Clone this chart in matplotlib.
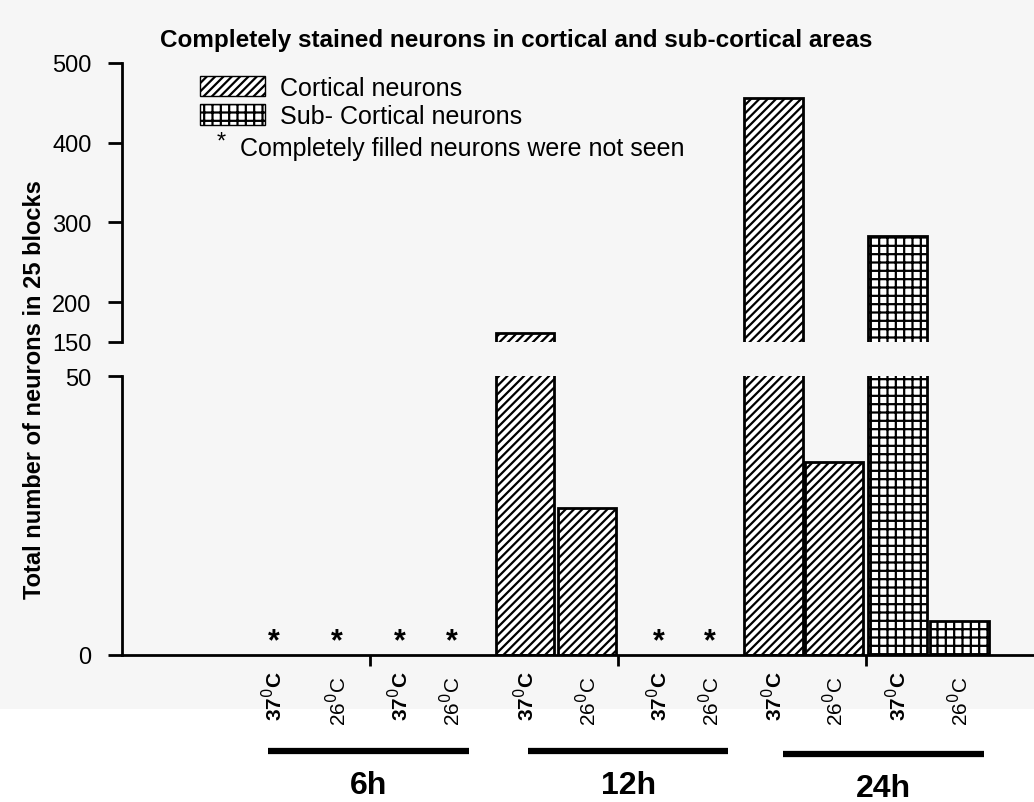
import numpy as np
import matplotlib
matplotlib.use('Agg')
import matplotlib.pyplot as plt
from matplotlib.patches import Patch, Rectangle
from matplotlib.transforms import blended_transform_factory

plt.rcParams['font.family'] = ['Liberation Sans', 'DejaVu Sans']
plt.rcParams['hatch.linewidth'] = 1.6

# Данные
groups = ['6h', '12h', '24h']
temps = ['37', '26']
# значения по группам: [37, 26]; nan = полностью окрашенных нейронов не найдено
cortical = np.array([[np.nan, np.nan], [161, 26.3], [456, 34.6]])
subcortical = np.array([[np.nan, np.nan], [np.nan, np.nan], [283, 6.1]])

# позиции столбцов (слоты по 4 в группе: кора 37/26, подкорка 37/26)
slots = np.array([-0.05, 0.97, 1.98, 2.82, 4.0, 5.0, 6.15, 6.98, 8.0, 8.98, 10.0, 11.0])
pos_c = slots.reshape(3, 4)[:, :2]
pos_s = slots.reshape(3, 4)[:, 2:]
tick_labels = [f'{temps[i % 2]}$^0$C' for i in range(len(slots))]

W, H = 1034, 803
fig = plt.figure(figsize=(W / 100, H / 100), dpi=100)
fig.patches.append(Rectangle((0, 1 - 710 / H), 1, 710 / H, transform=fig.transFigure,
                             facecolor='#f6f6f6', edgecolor='none', zorder=-10))

left = 122 / W
ax_top = fig.add_axes([left, 1 - 343 / H, 1 - left, 279 / H])
ax_bot = fig.add_axes([left, 1 - 656 / H, 1 - left, 279 / H])
for ax in (ax_top, ax_bot):
    ax.patch.set_alpha(0)
    for pc, vc, ps, vs in zip(pos_c, cortical, pos_s, subcortical):
        ax.bar(pc, vc, width=0.94, color='white', edgecolor='black', hatch='////', linewidth=2)
        ax.bar(ps, vs, width=0.94, color='white', edgecolor='black', hatch='++', linewidth=2)
    ax.set_xlim(-2.5, 12.2)
    ax.spines['top'].set_visible(False)
    ax.spines['right'].set_visible(False)
    ax.spines['left'].set_linewidth(2)
    ax.tick_params(axis='y', length=10, width=2, labelsize=17, pad=12)

ax_top.set_ylim(150, 500)
ax_top.set_yticks([150, 200, 300, 400, 500])
ax_top.spines['bottom'].set_visible(False)
ax_top.set_xticks([])

ax_bot.set_ylim(0, 50)
ax_bot.set_yticks([0, 50])
ax_bot.spines['bottom'].set_linewidth(2)
ax_bot.set_xticks([1.5, 5.5, 9.5])
ax_bot.set_xticklabels([])
ax_bot.tick_params(axis='x', length=8, width=2)

# звёздочки для отсутствующих значений
for pc, vc, ps, vs in zip(pos_c, cortical, pos_s, subcortical):
    for p, v in list(zip(pc, vc)) + list(zip(ps, vs)):
        if np.isnan(v):
            ax_bot.text(p, 2.4, '*', ha='center', va='center', fontsize=22, fontweight='bold')

# подписи температур
tr = blended_transform_factory(ax_bot.transData, ax_bot.transAxes)
for p, lab in zip(slots, tick_labels):
    bold = lab.startswith('37')
    ax_bot.text(p, -0.055 if bold else -0.075, lab, rotation=90, ha='center', va='top',
                fontsize=15, fontweight='bold' if bold else 'normal', transform=tr)

# линии групп и подписи
group_spans = [(-0.15, 3.1), (4.05, 7.27), (8.15, 11.4)]
group_y = [-0.345, -0.345, -0.355]
for (a, b), gy, g in zip(group_spans, group_y, groups):
    ax_bot.plot([a, b], [gy, gy], color='black', lw=4.5, transform=tr, clip_on=False,
                solid_capstyle='butt')
    ax_bot.text((a + b) / 2, gy - 0.12, g, ha='center', va='center', fontsize=23,
                fontweight='bold', transform=tr)

# легенда
handles = [Patch(facecolor='white', edgecolor='black', hatch='////', label='Cortical neurons'),
           Patch(facecolor='white', edgecolor='black', hatch='++', label='Sub- Cortical neurons')]
ax_top.legend(handles=handles, loc='upper left', bbox_to_anchor=(78 / 912, 0.955), frameon=False,
              fontsize=18, handlelength=2.6, handleheight=0.9, handletextpad=0.6,
              labelspacing=0.18, borderaxespad=0, borderpad=0)
fig.text(221 / W, 1 - 143 / H, '*', fontsize=17, ha='center', va='center')
fig.text(240 / W, 1 - 149 / H, 'Completely filled neurons were not seen', fontsize=18,
         ha='left', va='center')

fig.text(516 / W, 1 - 40 / H, 'Completely stained neurons in cortical and sub-cortical areas',
         fontsize=17.5, fontweight='bold', ha='center', va='center')
fig.text(35 / W, 1 - 390 / H, 'Total number of neurons in 25 blocks', rotation=90,
         fontsize=17, fontweight='bold', ha='center', va='center')

fig.savefig('out.png', dpi=100)
